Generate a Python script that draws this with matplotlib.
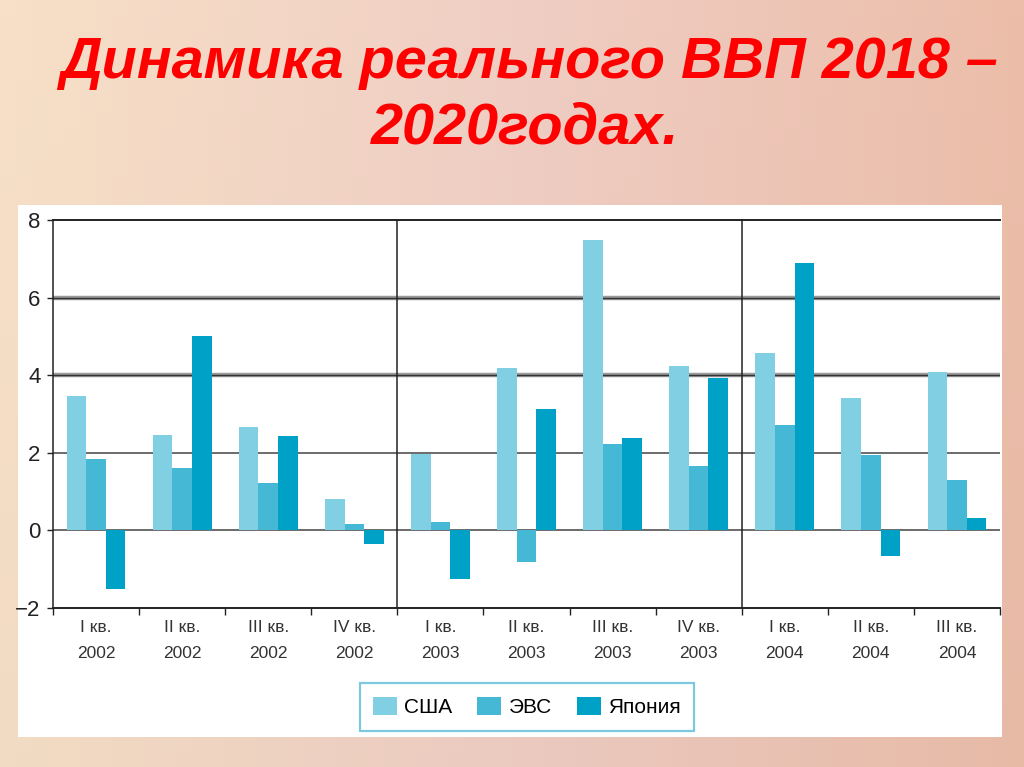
import numpy as np
import matplotlib
matplotlib.use("Agg")
import matplotlib.pyplot as plt
from matplotlib.patches import Rectangle, Patch

# ---- data ----
quarters = ["I кв.", "II кв.", "III кв.", "IV кв.",
            "I кв.", "II кв.", "III кв.", "IV кв.",
            "I кв.", "II кв.", "III кв."]
years = ["2002", "2002", "2002", "2002",
         "2003", "2003", "2003", "2003",
         "2004", "2004", "2004"]
usa   = [3.47, 2.45, 2.66, 0.82, 1.98, 4.19, 7.49, 4.24, 4.58, 3.40, 4.09]
evs   = [1.85, 1.62, 1.22, 0.17, 0.21, -0.82, 2.22, 1.65, 2.71, 1.95, 1.29]
japan = [-1.50, 5.00, 2.43, -0.34, -1.25, 3.12, 2.39, 3.92, 6.88, -0.66, 0.33]
series_names = ["США", "ЭВС", "Япония"]
yticks = [-2, 0, 2, 4, 6, 8]
year_breaks = [3.5, 7.5]

colors = ["#80cfe3", "#45b8d6", "#00a1c7"]

narrow = ["Liberation Sans Narrow", "Liberation Sans", "DejaVu Sans"]

W, H = 1024, 767
fig = plt.figure(figsize=(W / 100, H / 100), dpi=100)

# background gradient (styling only)
bg = fig.add_axes([0, 0, 1, 1], zorder=-10)
bg.set_axis_off()
nx, ny = 64, 48
tx = np.linspace(0, 1, nx)[None, :]
ty = np.linspace(0, 1, ny)[:, None]
left_c = np.array([247, 224, 199]) / 255
mid_c = np.array([240, 206, 196]) / 255
right_c = np.array([236, 190, 170]) / 255
img = np.zeros((ny, nx, 3))
for k in range(3):
    horiz = np.where(tx < 0.5, left_c[k] + (mid_c[k] - left_c[k]) * tx / 0.5,
                     mid_c[k] + (right_c[k] - mid_c[k]) * (tx - 0.5) / 0.5)
    img[:, :, k] = horiz * (1 - 0.02 * ty)
bg.imshow(np.clip(img, 0, 1), aspect="auto", extent=[0, 1, 0, 1], origin="upper")
bg.set_xlim(0, 1)
bg.set_ylim(0, 1)

# white panel
fig.patches.append(Rectangle((18 / W, 1 - 737 / H), (1002 - 18) / W, (737 - 205) / H,
                             transform=fig.transFigure, facecolor="white",
                             edgecolor="none", zorder=-5))

# title
title_font = ["Liberation Sans", "DejaVu Sans"]
fig.text(529 / W, 1 - 63 / H, "Динамика реального ВВП 2018 –",
         ha="center", va="center", color="#ff0000", fontsize=41.5,
         fontweight="bold", fontstyle="italic", family=title_font)
fig.text(525 / W, 1 - 129 / H, "2020годах.",
         ha="center", va="center", color="#ff0000", fontsize=41.5,
         fontweight="bold", fontstyle="italic", family=title_font)

ax = fig.add_axes([53 / W, 1 - 608 / H, (1000 - 53) / W, (608 - 220) / H])
ax.set_facecolor("none")
x = np.arange(len(quarters))
w = 0.228
for i, (vals, c, name) in enumerate(zip([usa, evs, japan], colors, series_names)):
    ax.bar(x + (i - 1) * w, vals, width=w, color=c, label=name, zorder=3, linewidth=0)

ax.set_xlim(-0.5, len(quarters) - 0.5)
ax.set_ylim(-2, 8)

# grid lines
for yv in [4, 6]:
    ax.axhline(yv, color="#9a9a9a", lw=3.2, zorder=1)
    ax.axhline(yv, color="#333333", lw=1.0, zorder=1.5)
for yv in [0, 2]:
    ax.axhline(yv, color="#444444", lw=1.1, zorder=1)
for xb in year_breaks:
    ax.axvline(xb, color="#222222", lw=1.1, zorder=2)

ax.spines["right"].set_visible(False)
ax.spines["top"].set_color("#222222")
ax.spines["top"].set_linewidth(1.4)
ax.spines["left"].set_color("#222222")
ax.spines["bottom"].set_color("#222222")
ax.spines["left"].set_linewidth(1.1)
ax.spines["bottom"].set_linewidth(1.4)

ax.set_yticks(yticks)
ax.set_yticklabels([("\u2212" + str(-t)) if t < 0 else str(t) for t in yticks],
                   family=narrow, fontsize=16, color="#222222")
ax.tick_params(axis="y", length=4, width=1, pad=5, color="#222222")

ax.set_xticks(np.arange(len(quarters) + 1) - 0.5, minor=False)
ax.set_xticklabels([])
ax.tick_params(axis="x", length=5, width=1, color="#222222")
ax.set_xticks(x, minor=True)
ax.set_xticklabels([f"{q}\n{yr}" for q, yr in zip(quarters, years)], minor=True,
                   family=narrow, fontsize=12.5, color="#333333", linespacing=1.85)
ax.tick_params(axis="x", which="minor", length=0, pad=9)

handles = [Patch(facecolor=c, edgecolor="none") for c in colors]
leg = fig.legend(handles, series_names, loc="center",
                 bbox_to_anchor=(527 / W, 1 - 707 / H), ncol=3, frameon=True,
                 fancybox=False, prop={"family": narrow, "size": 15},
                 handlelength=1.15, handleheight=1.0, columnspacing=1.2,
                 handletextpad=0.35, borderpad=0.65, borderaxespad=0)
leg.get_frame().set_edgecolor("#5bbcd8")
leg.get_frame().set_linewidth(1.6)

fig.savefig("out.png", dpi=100)
